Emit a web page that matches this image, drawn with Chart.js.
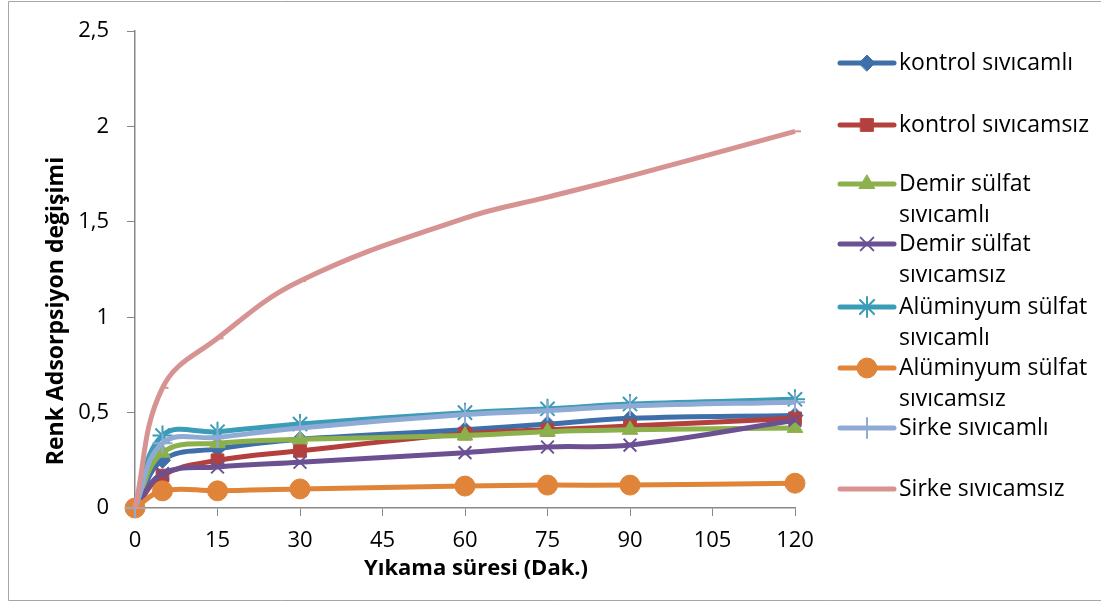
<!DOCTYPE html>
<html><head><meta charset="utf-8">
<script src="https://cdn.jsdelivr.net/npm/chart.js@4"></script>
<style>html,body{margin:0;padding:0;background:#fff}#wrap{width:1101px;height:602px;position:relative}</style>
</head><body><div id="wrap"><canvas id="c" width="1101" height="602"></canvas></div>
<script>
const times = [0, 5, 15, 30, 60, 75, 90, 120];
const seriesNames = ["kontrol sıvıcamlı","kontrol sıvıcamsız","Demir sülfat sıvıcamlı","Demir sülfat sıvıcamsız","Alüminyum sülfat sıvıcamlı","Alüminyum sülfat sıvıcamsız","Sirke sıvıcamlı","Sirke sıvıcamsız"];
const legendLines = [["kontrol sıvıcamlı"],["kontrol sıvıcamsız"],["Demir sülfat","sıvıcamlı"],["Demir sülfat","sıvıcamsız"],["Alüminyum sülfat","sıvıcamlı"],["Alüminyum sülfat","sıvıcamsız"],["Sirke sıvıcamlı"],["Sirke sıvıcamsız"]];
const kontrolSivicamli   = [0, 0.25, 0.31, 0.36, 0.41, 0.44, 0.47, 0.485];
const kontrolSivicamsiz  = [0, 0.17, 0.25, 0.30, 0.39, 0.41, 0.43, 0.47];
const demirSivicamli     = [0, 0.29, 0.34, 0.36, 0.38, 0.40, 0.41, 0.42];
const demirSivicamsiz    = [0, 0.18, 0.215, 0.24, 0.29, 0.32, 0.33, 0.46];
const aluminyumSivicamli = [0, 0.38, 0.40, 0.44, 0.50, 0.52, 0.545, 0.57];
const aluminyumSivicamsiz= [0, 0.09, 0.09, 0.10, 0.115, 0.12, 0.12, 0.13];
const sirkeSivicamli     = [0, 0.34, 0.37, 0.42, 0.49, 0.51, 0.535, 0.555];
const sirkeSivicamsiz    = [0, 0.63, 0.89, 1.19, 1.52, 1.63, 1.74, 1.975];
const yTicks = [0, 0.5, 1, 1.5, 2, 2.5];
const xTicks = [0, 15, 30, 45, 60, 75, 90, 105, 120];
const xTitle = 'Yıkama süresi (Dak.)';
const yTitle = 'Renk Adsorpsiyon değişimi';

const allValues = [kontrolSivicamli,kontrolSivicamsiz,demirSivicamli,demirSivicamsiz,aluminyumSivicamli,aluminyumSivicamsiz,sirkeSivicamli,sirkeSivicamsiz];
const colors = ["#3F6FAA","#B4403D","#8CB04B","#6C5192","#3A9CB6","#E0843A","#8FAAD4","#D69391"];
const styles = ["rectRot","rect","triangle","crossRot","star","circle","cross","dash"];
const radii = [8,9,9,9,10,10,10,6];
const FONT = "'Open Sans', 'Noto Sans', sans-serif";

const datasets = allValues.map((vals, i) => ({
  label: seriesNames[i],
  data: times.map((t, j) => ({x: t, y: vals[j]})),
  borderColor: colors[i],
  backgroundColor: colors[i],
  pointBorderColor: colors[i],
  pointBackgroundColor: colors[i],
  pointStyle: styles[i],
  pointRadius: radii[i],
  pointBorderWidth: (styles[i]==="crossRot"||styles[i]==="star"||styles[i]==="cross"||styles[i]==="dash") ? 2 : 1,
  borderWidth: 5,
  tension: 0.4,
  fill: false,
  clip: false,
  order: 8 - i
}));

const legendRows = [63,125,184,244,307,368,428,489];

const customPlugin = {
  id: 'custom',
  beforeDraw(chart) {
    const ctx = chart.ctx;
    ctx.save();
    ctx.fillStyle = '#fff';
    ctx.fillRect(0,0,chart.width,chart.height);
    ctx.strokeStyle = '#A6A6A6';
    ctx.lineWidth = 1;
    ctx.beginPath();
    ctx.moveTo(1101, 1.5); ctx.lineTo(8.5, 1.5); ctx.lineTo(8.5, 600.5); ctx.lineTo(1101, 600.5);
    ctx.stroke();
    ctx.restore();
  },
  afterDraw(chart) {
    const ctx = chart.ctx;
    ctx.save();
    // axis titles
    ctx.fillStyle = '#000';
    ctx.textAlign = 'center';
    ctx.textBaseline = 'middle';
    ctx.font = "bold 22px " + FONT;
    ctx.fillText(xTitle, 476, 569);
    ctx.save();
    ctx.translate(56, 311);
    ctx.rotate(-Math.PI / 2);
    ctx.font = "bold 23px " + FONT;
    ctx.fillText(yTitle, 0, 0);
    ctx.restore();
    // legend
    chart.data.datasets.forEach((ds, i) => {
      const y = legendRows[i];
      ctx.strokeStyle = ds.borderColor;
      ctx.lineWidth = 5;
      ctx.lineCap = 'round';
      ctx.beginPath(); ctx.moveTo(840, y); ctx.lineTo(894, y); ctx.stroke();
      if (ds.pointStyle !== 'dash') {
        ctx.fillStyle = ds.borderColor;
        ctx.strokeStyle = ds.borderColor;
        ctx.lineWidth = ds.pointBorderWidth;
        Chart.helpers.drawPoint(ctx, {pointStyle: ds.pointStyle, radius: ds.pointRadius, rotation: 0, borderWidth: ds.pointBorderWidth}, 867, y);
      }
      ctx.fillStyle = '#000';
      ctx.font = "23px " + FONT;
      ctx.textBaseline = 'middle';
      ctx.textAlign = 'left';
      legendLines[i].forEach((ln, k) => ctx.fillText(ln, 899, y + k * 31));
    });
    ctx.restore();
  }
};

new Chart(document.getElementById('c'), {
  type: 'line',
  data: { datasets },
  options: {
    responsive: false,
    animation: false,
    devicePixelRatio: 1,
    layout: { padding: { left: 12, top: 27, right: 306, bottom: 8 } },
    plugins: { legend: { display: false }, tooltip: { enabled: false } },
    scales: {
      x: {
        type: 'linear', min: 0, max: 120,
        afterBuildTicks: s => { s.ticks = xTicks.map(v => ({value: v})); },
        grid: { display: true, drawOnChartArea: false, drawTicks: true, tickLength: 8, color: '#888', tickColor: '#888' },
        border: { display: true, color: '#888', width: 1.5 },
        ticks: { color: '#000', font: { size: 22, family: FONT }, padding: 12, maxRotation: 0 },
        title: { display: false },
        afterFit: s => { s.height = 602 - 508 - 8; }
      },
      y: {
        min: 0, max: 2.5,
        afterBuildTicks: s => { s.ticks = yTicks.map(v => ({value: v})); },
        grid: { display: true, drawOnChartArea: false, drawTicks: true, tickLength: 8, color: '#888', tickColor: '#888' },
        border: { display: true, color: '#888', width: 1.5 },
        ticks: { color: '#000', font: { size: 22, family: FONT }, padding: 18, callback: v => String(v).replace('.', ',') },
        title: { display: false },
        afterFit: s => { s.width = 135 - 12; }
      }
    }
  },
  plugins: [customPlugin]
});
</script>
</body></html>
